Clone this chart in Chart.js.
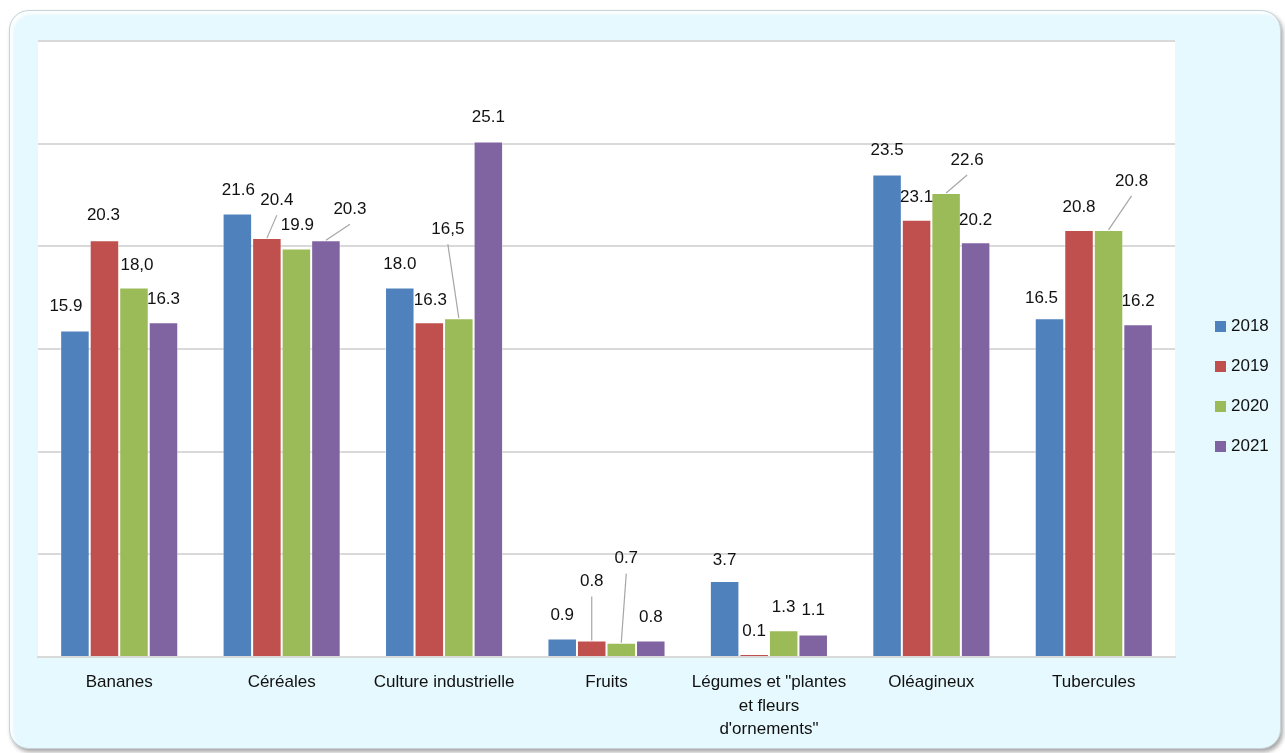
<!DOCTYPE html>
<html>
<head>
<meta charset="utf-8">
<script src="https://cdn.jsdelivr.net/npm/chart.js@4.4.0/dist/chart.umd.min.js"></script>
<style>
body{margin:0;background:#fff;width:1285px;height:753px;overflow:hidden}
#cadre{position:absolute;left:9px;top:10px;width:1270px;height:737px;border-radius:20px;background:#e6f9fe;border:1px solid #c9d3d7;box-shadow:2px 3px 4px rgba(0,0,0,0.35), inset 3px 3px 3px rgba(255,255,255,0.9)}
#graphe{position:absolute;left:0;top:0}
</style>
</head>
<body>
<div id="cadre"></div>
<canvas id="graphe" width="1285" height="753"></canvas>
<script>
var categories = ["Bananes","Céréales","Culture industrielle","Fruits",['Légumes et "plantes','et fleurs','d\'ornements"'],"Oléagineux","Tubercules"]
var annees = ["2018","2019","2020","2021"]
var couleurs = ["#4f81bd","#c0504d","#9bbb59","#8064a2"]

// hauteurs des barres
var v2018 = [15.9, 21.6, 18.0, 0.9, 3.7, 23.5, 16.5]
var v2019 = [20.3, 20.4, 16.3, 0.8, 0.15, 21.3, 20.8]
var v2020 = [18.0, 19.9, 16.5, 0.7, 1.3, 22.6, 20.8]
var v2021 = [16.3, 20.3, 25.1, 0.8, 1.1, 20.2, 16.2]

// textes des etiquettes (tels qu'affiches)
var t2018 = ["15.9","21.6","18.0","0.9","3.7","23.5","16.5"]
var t2019 = ["20.3","20.4","16.3","0.8","0.1","23.1","20.8"]
var t2020 = ["18,0","19.9","16,5","0.7","1.3","22.6","20.8"]
var t2021 = ["16.3","20.3","25.1","0.8","1.1","20.2","16.2"]

// decalage des etiquettes [dx, dy, trait]
var decal = [
	[[-9,-1,0],[1,0,0],[0,0,0],[0,0,0],[0,2,0],[0,-1,0],[-8,3,0]],
	[[-1,-2,0],[10,-15,1],[1,1,0],[0,-36,1],[0,0,0],[0,1,0],[0,0,0]],
	[[3,1,0],[1,0,0],[-11,-66,1],[5,-61,1],[0,0,0],[21,-10,1],[23,-26,1]],
	[[0,0,0],[24,-8,1],[0,-1,0],[0,0,0],[0,-1,0],[0,1,0],[0,0,0]]
]

var valeurs = [v2018,v2019,v2020,v2021]
var textes = [t2018,t2019,t2020,t2021]
var police = "'Liberation Sans', Arial, sans-serif"

var jeux = []
for(var i=0;i<annees.length;i++){
	jeux.push({label: annees[i], data: valeurs[i], backgroundColor: couleurs[i],
		borderColor: "rgba(255,255,255,0.45)", borderWidth: 1,
		barPercentage: 1, categoryPercentage: 0.727})
}

var fond = {
	id: "fond",
	beforeDraw: function(c){
		var a = c.chartArea
		c.ctx.save()
		c.ctx.fillStyle = "#ffffff"
		c.ctx.fillRect(a.left, a.top-1, a.right-a.left, a.bottom-a.top+1)
		c.ctx.restore()
	}
}

var etiquettes = {
	id: "etiquettes",
	afterDatasetsDraw: function(c){
		var ctx = c.ctx
		ctx.save()
		ctx.font = "17px " + police
		ctx.textAlign = "center"
		ctx.textBaseline = "middle"
		for(var i=0;i<c.data.datasets.length;i++){
			var meta = c.getDatasetMeta(i)
			for(var j=0;j<meta.data.length;j++){
				var b = meta.data[j]
				var d = decal[i][j]
				var x = b.x + d[0]
				var y = b.y - 23 + d[1]
				if(d[2]){
					ctx.strokeStyle = "#a6a6a6"
					ctx.lineWidth = 1.2
					ctx.beginPath()
					ctx.moveTo(x, y+15)
					ctx.lineTo(b.x, b.y)
					ctx.stroke()
				}
				ctx.fillStyle = "#111111"
				ctx.fillText(textes[i][j], x, y)
			}
		}
		// legende
		for(var i=0;i<c.data.datasets.length;i++){
			var yl = 326.5 + 40*i
			ctx.fillStyle = couleurs[i]
			ctx.fillRect(1215, yl-5.5, 11, 11)
			ctx.fillStyle = "#111111"
			ctx.textAlign = "left"
			ctx.fillText(c.data.datasets[i].label, 1231, yl)
		}
		ctx.restore()
	}
}

new Chart("graphe", {type: "bar",
	data: {labels: categories, datasets: jeux},
	options: {
		responsive: false,
		animation: false,
		devicePixelRatio: 1,
		layout: {padding: {left: 38, top: 41, right: 110, bottom: 0}},
		plugins: {legend: {display: false}, tooltip: {enabled: false}},
		scales: {
			x: {
				grid: {display: false, drawTicks: false},
				border: {display: true, color: "#d9d9d9", width: 2},
				ticks: {color: "#111111", padding: 14, maxRotation: 0, autoSkip: false,
					font: {family: police, size: 17, lineHeight: 1.38}},
				afterFit: function(s){ s.height = 96 }
			},
			y: {
				min: 0, max: 30,
				ticks: {display: false, stepSize: 5},
				grid: {color: "#d9d9d9", lineWidth: 2, drawTicks: false},
				border: {display: false},
				afterFit: function(s){ s.width = 0 }
			}
		}
	},
	plugins: [fond, etiquettes]
})
</script>
</body>
</html>
